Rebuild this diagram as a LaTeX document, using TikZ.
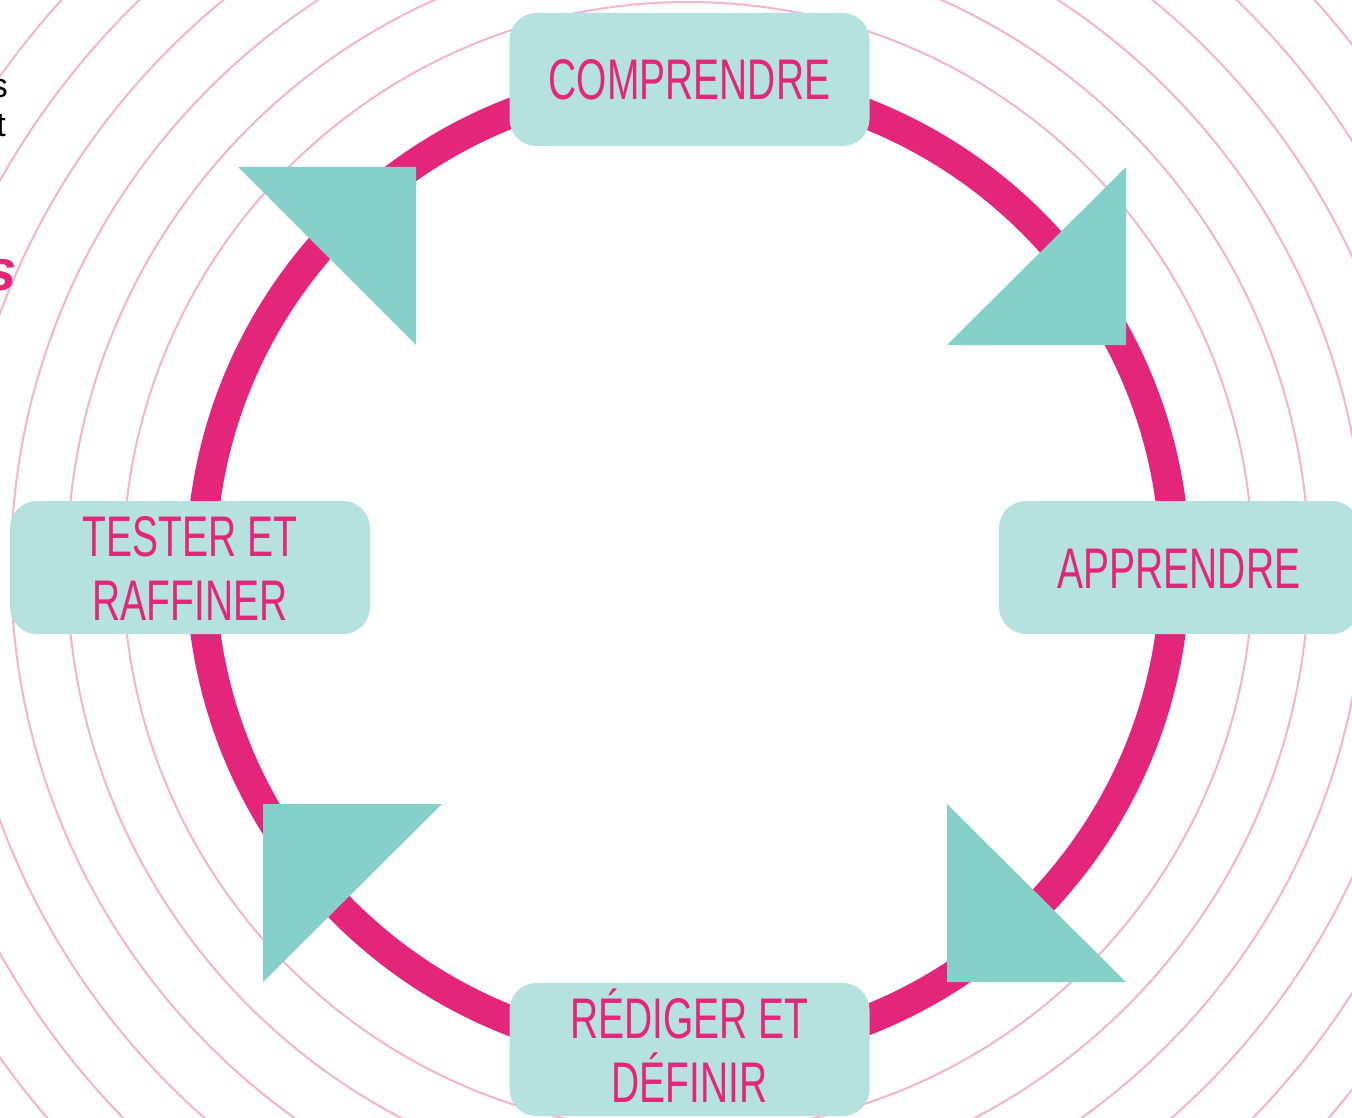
\documentclass[tikz,border=0pt]{standalone}
\usepackage{fontspec}
\setmainfont{Liberation Sans}
\newfontfamily\condfont{Liberation Sans}[FakeStretch=0.68]
\definecolor{mag}{HTML}{E4267A}
\definecolor{ringpink}{HTML}{F3B4CC}
\definecolor{tealtri}{HTML}{85D0C9}
\definecolor{tealbox}{HTML}{B5E2DF}
\begin{document}
\begin{tikzpicture}[x=1pt,y=-1pt,
  ring/.style={draw=ringpink,line width=2pt},
  bigring/.style={draw=mag,line width=30pt},
  arrowtri/.style={fill=tealtri},
  stagebox/.style={fill=tealbox,rounded corners=27pt,minimum width=360pt,
    minimum height=133pt,inner sep=0pt,align=center,text=mag,
    font=\condfont\fontsize{57.3}{64}\selectfont,text height=41pt,text depth=0pt},
  twoline/.style={text height=105pt,text depth=0pt},
  frag/.style={anchor=base east,inner sep=0pt}
]
\useasboundingbox (0,0) rectangle (1352,1118);
\clip (0,0) rectangle (1352,1118);
\fill[white] (0,0) rectangle (1352,1118);
\coordinate (c) at (688,567);
\foreach \r in {565,621,677,733,789,845} \draw[ring] (c) circle[radius=\r pt];
\draw[bigring] (c) circle[radius=487pt];
% arrow triangles
\fill[arrowtri] (238,167) -- (416,167) -- (416,345) -- cycle;
\fill[arrowtri] (1126,167) -- (1126,345) -- (947,345) -- cycle;
\fill[arrowtri] (947,804) -- (947,982) -- (1126,982) -- cycle;
\fill[arrowtri] (263,804) -- (442,804) -- (263,982) -- cycle;
% stage boxes
\node[stagebox] (comprendre) at (689.5,79.5) {COMPRENDRE};
\node[stagebox] (apprendre) at (1179,567.5) {APPRENDRE};
\node[stagebox,twoline] (rediger) at (689.5,1049.5) {RÉDIGER ET\\DÉFINIR};
\node[stagebox,twoline] (tester) at (190,567.5) {TESTER ET\\RAFFINER};
% cut-off text fragments at the left edge
\node[frag,font=\fontsize{34}{40}\selectfont] (fragA) at (8,98) {s};
\node[frag,font=\fontsize{34}{40}\selectfont] (fragB) at (6,137) {t};
\node[frag,text=mag,font=\bfseries\itshape\fontsize{58}{60}\selectfont] (fragC) at (17,290) {s};
\end{tikzpicture}
\end{document}
